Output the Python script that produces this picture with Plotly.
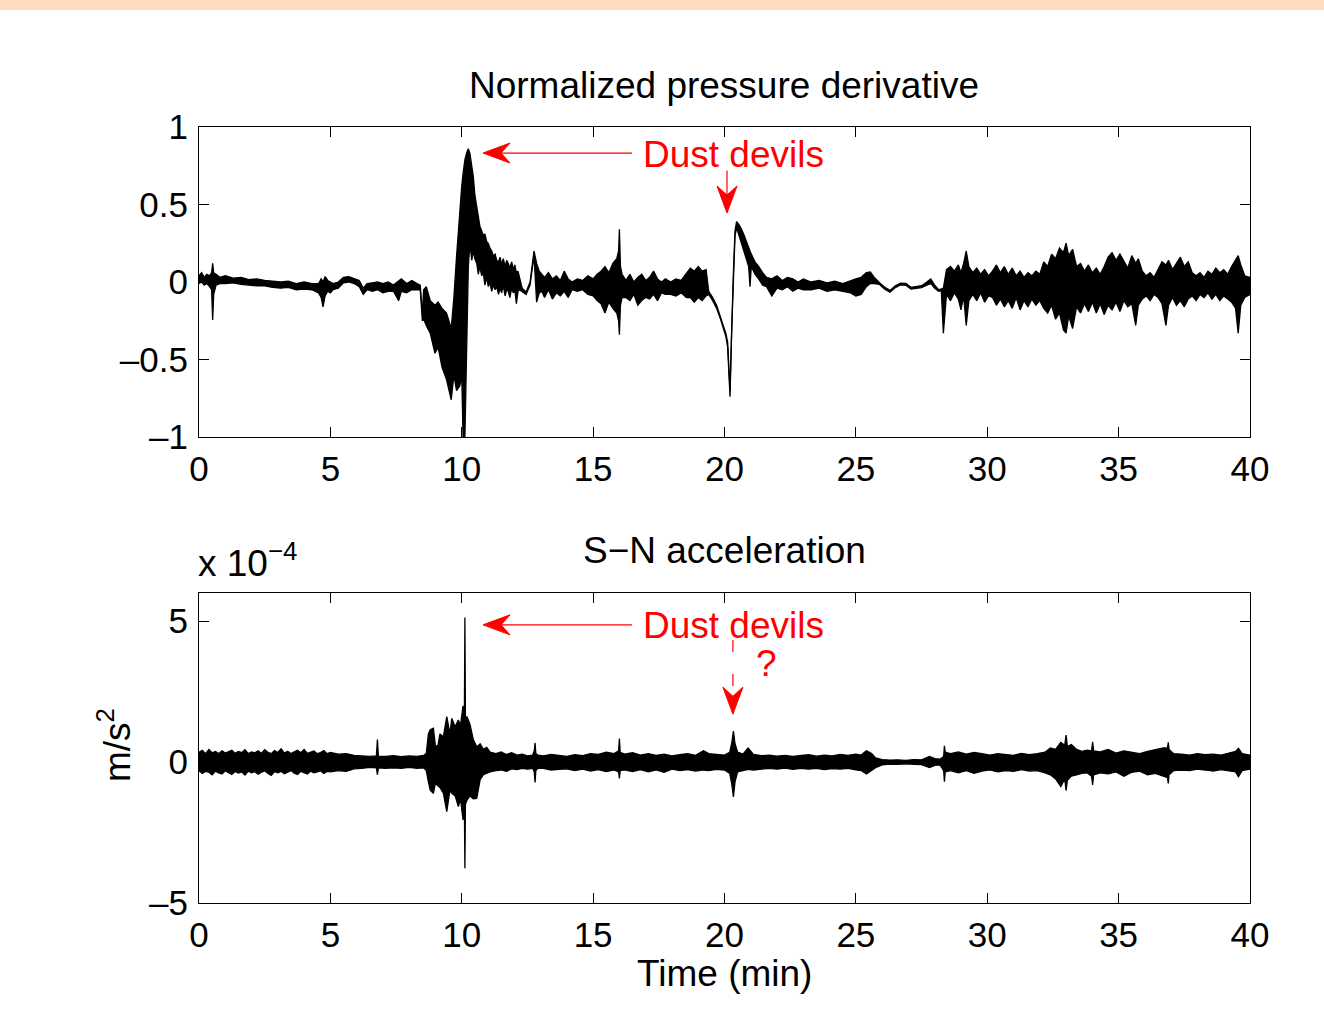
import plotly.graph_objects as go

# ---------------- data ----------------
# Normalized pressure derivative: upper / lower envelope of the dense trace
time_p = [
    0.0, 0.1, 0.2, 0.3, 0.4, 0.48, 0.52, 0.56, 0.65, 0.8,
    1.0, 1.3, 1.6, 1.9, 2.2, 2.5, 2.8, 3.1, 3.4, 3.7, 4.0, 4.3,
    4.55, 4.65, 4.72, 4.8, 4.9, 5.0, 5.1,
    5.3, 5.5, 5.7, 5.9, 6.1, 6.25, 6.4,
    6.6, 6.8, 7.0, 7.2, 7.4, 7.6, 7.7, 7.9, 8.1, 8.3, 8.42,
    8.5, 8.55, 8.65, 8.8, 8.98, 9.1, 9.25, 9.42, 9.6, 9.7, 9.8, 9.93, 10.0,
    10.05, 10.12, 10.2, 10.25,
    10.31, 10.38, 10.44, 10.5, 10.57, 10.63, 10.69, 10.76, 10.82, 10.88,
    10.95, 11.01, 11.07, 11.14, 11.2, 11.27, 11.33, 11.4, 11.46, 11.52,
    11.58, 11.65, 11.71, 11.77, 11.83, 11.9, 11.96, 12.02, 12.08, 12.14, 12.2,
    12.3, 12.45, 12.6, 12.75, 12.85, 12.95,
    13.05, 13.15, 13.3, 13.45, 13.6, 13.75, 13.9, 14.05, 14.2,
    14.4, 14.6, 14.8, 15.0, 15.15,
    15.3, 15.45, 15.6, 15.75, 15.9, 15.97, 16.0, 16.04, 16.1,
    16.25, 16.4, 16.55, 16.7, 16.85, 17.0, 17.15, 17.3, 17.45, 17.6, 17.75,
    17.95, 18.15, 18.35, 18.55, 18.7, 18.85, 19.0, 19.15, 19.3,
    19.4, 19.55, 19.7, 19.85, 19.95, 20.05, 20.12, 20.21, 20.27, 20.33, 20.4, 20.46,
    20.55, 20.65, 20.75, 20.85, 20.92, 20.97, 21.02, 21.16, 21.3, 21.45,
    21.6, 21.8, 22.0, 22.2, 22.4, 22.6, 22.8, 23.0,
    23.3, 23.6, 23.9, 24.2, 24.5, 24.8,
    25.0, 25.2, 25.4, 25.55, 25.7,
    25.9, 26.1, 26.3, 26.5, 26.7, 26.9, 27.1, 27.3, 27.5, 27.7, 27.85, 28.0, 28.15, 28.25, 28.33,
    28.45, 28.6, 28.75, 28.9, 29.0, 29.1, 29.2, 29.3, 29.45, 29.6,
    29.75, 29.9, 30.05, 30.2, 30.35, 30.5, 30.65, 30.8, 30.95, 31.1,
    31.25, 31.4, 31.55, 31.7, 31.85, 32.0, 32.15, 32.3, 32.45, 32.6,
    32.75, 32.9, 33.0, 33.1, 33.25, 33.4, 33.55, 33.7, 33.85, 34.0,
    34.15, 34.3, 34.45, 34.6, 34.75, 34.9, 35.05, 35.2, 35.35, 35.5,
    35.65, 35.75, 35.9, 36.05, 36.2, 36.35, 36.5, 36.65, 36.8, 36.9,
    37.05, 37.2, 37.35, 37.5, 37.65, 37.8, 37.95, 38.1, 38.25, 38.4,
    38.55, 38.7, 38.85, 39.0, 39.15, 39.3, 39.45, 39.55, 39.65, 39.8,
    40.0,
]
p_upper = [
    0.04, 0.06, 0.03, 0.05, 0.04, 0.06, 0.12, 0.06, 0.05, 0.03,
    0.04, 0.025, 0.03, 0.015, 0.02, 0.01, 0.005, 0.0, 0.005, -0.01, 0.0, -0.01,
    -0.01, 0.02, 0.0, 0.035, 0.01, 0.0, -0.01,
    0.0, 0.03, 0.035, 0.02, 0.01, -0.04, -0.01,
    -0.005, 0.0, -0.01, 0.0, -0.02, 0.01, 0.02, -0.01, 0.01, -0.01, -0.02,
    -0.2, -0.05, -0.03, -0.12, -0.15, -0.13, -0.17, -0.2, -0.3, -0.1, 0.16, 0.5, 0.62,
    0.7, 0.79, 0.84, 0.86,
    0.83, 0.74, 0.68, 0.56, 0.49, 0.42, 0.36, 0.33, 0.3, 0.31,
    0.26, 0.25, 0.22, 0.2, 0.17, 0.18, 0.14, 0.13, 0.16, 0.11,
    0.15, 0.1, 0.14, 0.12, 0.09, 0.13, 0.08, 0.11, 0.06, 0.07, 0.02,
    -0.04, -0.065, 0.0, 0.2, 0.12, 0.07,
    0.05, 0.03, 0.06, 0.02, 0.04, 0.01, 0.07, 0.02, 0.0,
    0.02, 0.01, 0.04, 0.02, 0.05,
    0.07, 0.1, 0.06, 0.12, 0.15, 0.2, 0.34, 0.1, 0.05,
    0.01, 0.05, 0.0, 0.03, 0.05, 0.01, 0.03, 0.07, 0.02, 0.0, 0.02,
    0.0, 0.02, 0.01, 0.06, 0.09, 0.07, 0.1, 0.07, 0.08,
    -0.06, -0.1, -0.15, -0.22, -0.28, -0.33, -0.39, -0.7, -0.28, 0.02, 0.33, 0.39,
    0.37, 0.34, 0.3, 0.25, 0.22, 0.2, 0.18, 0.13, 0.1, 0.06,
    0.03, 0.02, 0.04, 0.01, 0.03, 0.02, 0.0, 0.02,
    0.0, 0.01, -0.005, 0.005, -0.01, 0.01,
    0.02, 0.03, 0.06, 0.065, 0.03,
    -0.004, -0.034, -0.054, -0.024, -0.007, -0.009, -0.034, -0.029, -0.024, 0.0, 0.02, -0.02, -0.05, -0.045, -0.04,
    0.08, 0.1, 0.07, 0.11, 0.06, 0.12, 0.2, 0.1, 0.06, 0.09,
    0.05, 0.08, 0.04, 0.07, 0.11, 0.06, 0.1, 0.05, 0.09, 0.04,
    0.07, 0.03, 0.06, 0.04, 0.07, 0.05, 0.13, 0.1, 0.18, 0.15,
    0.22, 0.19, 0.25, 0.17, 0.21, 0.1, 0.12, 0.07, 0.11, 0.06,
    0.09, 0.05, 0.1, 0.16, 0.19, 0.14, 0.18, 0.13, 0.09, 0.17,
    0.12, 0.15, 0.07, 0.04, 0.06, 0.03, 0.08, 0.13, 0.11, 0.14,
    0.08, 0.12, 0.16, 0.1, 0.13, 0.06, 0.04, 0.06, 0.03, 0.07,
    0.05, 0.09, 0.06, 0.08, 0.05, 0.1, 0.14, 0.17, 0.11, 0.04,
    0.03,
]
p_lower = [
    -0.01, 0.0, -0.02, -0.01, -0.03, -0.05, -0.245, -0.08, -0.02, -0.01,
    -0.01, -0.005, -0.015, -0.02, -0.025, -0.025, -0.035, -0.04, -0.035, -0.05, -0.045, -0.05,
    -0.07, -0.1, -0.16, -0.09, -0.06, -0.07, -0.05,
    -0.04, -0.005, 0.0, -0.01, -0.03, -0.08, -0.05,
    -0.06, -0.05, -0.07, -0.06, -0.06, -0.12, -0.06, -0.07, -0.05, -0.05, -0.05,
    -0.25, -0.24, -0.28, -0.33, -0.46, -0.42, -0.55, -0.63, -0.76, -0.6, -0.7, -0.67, -0.6,
    -1.0, -1.0, -0.4, 0.1,
    0.25, 0.14, 0.2, 0.15, 0.12, 0.05, 0.1, 0.04, 0.06, -0.02,
    0.03, -0.03, 0.0, -0.06, -0.02, -0.05, -0.03, -0.08, -0.04, -0.07,
    -0.02, -0.09, -0.05, -0.06, -0.1, -0.04, -0.07, -0.05, -0.14, -0.06, -0.05,
    -0.06, -0.08, -0.02, 0.17, -0.13, -0.07,
    -0.06, -0.1, -0.05, -0.11, -0.07, -0.09, -0.06, -0.1, -0.05,
    -0.06, -0.05, -0.08, -0.09, -0.12,
    -0.14, -0.2, -0.13, -0.17, -0.2, -0.25, -0.34, -0.15, -0.1,
    -0.1, -0.12, -0.08, -0.15, -0.12, -0.1, -0.11, -0.08, -0.12, -0.07, -0.08,
    -0.08, -0.09, -0.07, -0.1, -0.1, -0.13, -0.1, -0.12, -0.09,
    -0.08, -0.12, -0.17, -0.24, -0.3, -0.35, -0.42, -0.74, -0.33, -0.02, 0.3, 0.35,
    0.3, 0.24, 0.19, 0.14, 0.1, -0.03, 0.1, 0.05, 0.02, -0.02,
    -0.03, -0.09, -0.04, -0.05, -0.03, -0.06, -0.04, -0.05,
    -0.05, -0.04, -0.06, -0.05, -0.06, -0.07,
    -0.09, -0.08, -0.03, -0.01, -0.01,
    -0.016, -0.046, -0.066, -0.036, -0.019, -0.021, -0.046, -0.041, -0.036, -0.02, -0.01, -0.04, -0.06, -0.055, -0.33,
    -0.08, -0.12, -0.07, -0.11, -0.18, -0.09, -0.28, -0.12, -0.08, -0.12,
    -0.07, -0.13, -0.09, -0.1, -0.15, -0.11, -0.16, -0.12, -0.17, -0.1,
    -0.18, -0.12, -0.16, -0.11, -0.15, -0.12, -0.17, -0.2, -0.15, -0.24,
    -0.2, -0.31, -0.33, -0.22, -0.3, -0.16, -0.2, -0.14, -0.19, -0.13,
    -0.2, -0.14, -0.21, -0.15, -0.18, -0.13, -0.19, -0.12, -0.16, -0.14,
    -0.28, -0.15, -0.11, -0.09, -0.12, -0.08, -0.1, -0.14, -0.28, -0.15,
    -0.1, -0.15, -0.12, -0.16, -0.11, -0.09, -0.12, -0.08, -0.1, -0.07,
    -0.11, -0.08, -0.12, -0.09, -0.11, -0.13, -0.17, -0.33, -0.15, -0.1,
    -0.08,
]

# S-N acceleration (units of 1e-4 m/s^2): upper / lower envelope
time_a = [
    0.0, 0.125, 0.25, 0.375, 0.5, 0.625, 0.75, 0.875, 1.0, 1.125,
    1.25, 1.375, 1.5, 1.625, 1.75, 1.875, 2.0, 2.125, 2.25, 2.375,
    2.5, 2.625, 2.75, 2.875, 3.0, 3.125, 3.25, 3.375, 3.5, 3.625,
    3.75, 3.875, 4.0, 4.125, 4.25, 4.375, 4.5, 4.625, 4.75, 4.875, 5.0,
    5.3, 5.6, 5.9, 6.2, 6.5, 6.75, 6.79, 6.83, 7.1, 7.4, 7.7, 8.0, 8.3, 8.55,
    8.65, 8.73, 8.8, 8.92, 9.0, 9.1, 9.17, 9.3, 9.43, 9.55, 9.62, 9.75, 9.87, 9.95, 10.05,
    10.1, 10.12, 10.14, 10.2, 10.31, 10.44, 10.57, 10.7, 10.82, 10.95, 11.08,
    11.3, 11.5, 11.7, 11.9, 12.1, 12.3, 12.5, 12.7, 12.76, 12.79, 12.82, 12.9,
    13.1, 13.4, 13.7, 14.0, 14.3, 14.6, 14.9, 15.2, 15.5, 15.8,
    15.97, 16.0, 16.03, 16.2, 16.5, 16.8, 17.1, 17.4, 17.7, 18.0,
    18.3, 18.6, 18.9, 19.2, 19.4, 19.7, 20.0, 20.2, 20.28, 20.34,
    20.4, 20.5, 20.7, 20.9, 21.1, 21.4, 21.7, 22.0, 22.3, 22.6,
    22.9, 23.2, 23.5, 23.8, 24.1, 24.4, 24.7, 25.0, 25.2, 25.4,
    25.6,
    25.75, 26.0, 26.3, 26.6, 26.9, 27.2, 27.5, 27.8, 28.0, 28.2,
    28.34, 28.37, 28.4, 28.6, 28.9, 29.2, 29.5, 29.8, 30.1, 30.4,
    30.7, 31.0, 31.3, 31.6, 31.9, 32.2, 32.4, 32.6, 32.8, 32.95,
    33.0, 33.05, 33.2, 33.4, 33.6, 33.8, 33.97, 34.01, 34.05, 34.3,
    34.6, 34.9, 35.2, 35.5, 35.8, 36.1, 36.4, 36.7, 36.86, 36.89,
    36.92, 37.1, 37.4, 37.7, 38.0, 38.3, 38.6, 38.9, 39.2, 39.45,
    39.56, 39.7, 40.0,
]
a_upper = [
    0.35, 0.42, 0.3, 0.45, 0.33, 0.38, 0.3, 0.4, 0.32, 0.36,
    0.42, 0.31, 0.38, 0.34, 0.44, 0.3, 0.36, 0.33, 0.4, 0.31,
    0.44, 0.35, 0.3, 0.41, 0.34, 0.47, 0.32, 0.38, 0.3, 0.36,
    0.42, 0.33, 0.45, 0.31, 0.36, 0.39, 0.3, 0.34, 0.41, 0.3, 0.34,
    0.28, 0.3, 0.24, 0.22, 0.2, 0.22, 0.8, 0.2, 0.2, 0.23, 0.19, 0.22, 0.2, 0.24,
    0.3, 1.0, 1.15, 1.2, 0.55, 0.6, 1.0, 0.9, 1.61, 1.0, 1.55, 1.25, 1.49, 1.3, 2.0,
    1.6, 5.13, 1.6, 1.6, 1.35, 0.8, 0.54, 0.65, 0.45, 0.52, 0.35,
    0.3, 0.36, 0.27, 0.33, 0.25, 0.28, 0.22, 0.25, 0.4, 0.68, 0.3, 0.25,
    0.22, 0.27, 0.24, 0.2, 0.26, 0.23, 0.3, 0.27, 0.35, 0.3,
    0.4, 0.84, 0.35, 0.28, 0.33, 0.25, 0.3, 0.24, 0.28, 0.22,
    0.26, 0.3, 0.24, 0.4, 0.3, 0.27, 0.25, 0.35, 0.7, 1.1,
    0.65, 0.35, 0.28, 0.5, 0.27, 0.23, 0.25, 0.21, 0.24, 0.2,
    0.23, 0.26, 0.21, 0.25, 0.22, 0.27, 0.24, 0.28, 0.25, 0.4,
    0.3,
    0.15, 0.09, 0.07, 0.08, 0.06, 0.09, 0.08, 0.2, 0.12, 0.1,
    0.2, 0.58, 0.35, 0.3, 0.36, 0.28, 0.34, 0.3, 0.25, 0.3,
    0.27, 0.24, 0.31, 0.26, 0.3, 0.35, 0.5, 0.45, 0.7, 0.6,
    0.96, 0.55, 0.62, 0.45, 0.38, 0.42, 0.4, 0.72, 0.4, 0.36,
    0.45, 0.32, 0.4, 0.35, 0.3, 0.38, 0.45, 0.5, 0.5, 0.7,
    0.45, 0.3, 0.28, 0.25, 0.3, 0.26, 0.28, 0.25, 0.32, 0.38,
    0.49, 0.3, 0.25,
]
a_lower = [
    -0.3, -0.4, -0.33, -0.36, -0.45, -0.32, -0.38, -0.42, -0.31, -0.37,
    -0.44, -0.33, -0.39, -0.35, -0.46, -0.32, -0.38, -0.34, -0.43, -0.36,
    -0.31, -0.4, -0.47, -0.34, -0.38, -0.33, -0.41, -0.36, -0.3, -0.39,
    -0.44, -0.33, -0.37, -0.42, -0.32, -0.38, -0.35, -0.31, -0.4, -0.33, -0.35,
    -0.3, -0.33, -0.24, -0.22, -0.19, -0.2, -0.45, -0.2, -0.22, -0.2, -0.22, -0.19, -0.22, -0.2,
    -0.3, -0.7, -1.0, -1.11, -0.75, -0.85, -0.9, -1.1, -1.76, -1.0, -1.11, -1.2, -1.58, -1.3, -2.05,
    -1.6, -3.77, -1.5, -1.35, -1.2, -1.3, -1.29, -0.62, -0.45, -0.4, -0.35,
    -0.3, -0.28, -0.33, -0.24, -0.27, -0.22, -0.25, -0.22, -0.35, -0.72, -0.3, -0.22,
    -0.22, -0.28, -0.26, -0.24, -0.3, -0.25, -0.32, -0.27, -0.34, -0.28,
    -0.35, -0.58, -0.3, -0.28, -0.34, -0.27, -0.35, -0.28, -0.36, -0.25,
    -0.3, -0.27, -0.32, -0.28, -0.3, -0.26, -0.28, -0.4, -0.8, -1.24,
    -0.7, -0.35, -0.3, -0.26, -0.28, -0.24, -0.22, -0.25, -0.21, -0.26,
    -0.22, -0.25, -0.22, -0.27, -0.23, -0.25, -0.22, -0.28, -0.3, -0.42,
    -0.3,
    -0.2, -0.1, -0.07, -0.08, -0.06, -0.08, -0.09, -0.19, -0.12, -0.1,
    -0.3, -0.7, -0.35, -0.3, -0.38, -0.3, -0.4, -0.32, -0.28, -0.35,
    -0.3, -0.33, -0.27, -0.32, -0.3, -0.38, -0.45, -0.6, -0.87, -0.6,
    -1.01, -0.65, -0.5, -0.45, -0.4, -0.38, -0.5, -0.81, -0.45, -0.38,
    -0.42, -0.35, -0.5, -0.36, -0.32, -0.45, -0.4, -0.5, -0.55, -0.76,
    -0.45, -0.3, -0.28, -0.3, -0.25, -0.28, -0.32, -0.27, -0.3, -0.35,
    -0.52, -0.3, -0.25,
]

x_ticks = [0, 5, 10, 15, 20, 25, 30, 35, 40]
p_ticks = [-1, -0.5, 0, 0.5, 1]
p_ticktext = ["\u20131", "\u20130.5", "0", "0.5", "1"]
a_ticks = [-5, 0, 5]
a_ticktext = ["\u20135", "0", "5"]

# ---------------- figure ----------------
W, H = 1324, 1010
FONT = "Liberation Sans, Arial, Helvetica, sans-serif"
RED = "#ff0000"
TXT = 37

fig = go.Figure()

def band(t, lo, hi, xa, ya):
    fig.add_trace(go.Scatter(x=t, y=lo, mode="lines", xaxis=xa, yaxis=ya,
                             line=dict(color="black", width=1.3), hoverinfo="skip"))
    fig.add_trace(go.Scatter(x=t, y=hi, mode="lines", xaxis=xa, yaxis=ya, fill="tonexty",
                             fillcolor="black", line=dict(color="black", width=1.3),
                             hoverinfo="skip"))

band(time_p, p_lower, p_upper, "x", "y")
band(time_a, a_lower, a_upper, "x2", "y2")

xdom = [199 / W, 1250 / W]
axis_common = dict(showline=True, linecolor="black", linewidth=1.2, mirror="ticks",
                   ticks="inside", ticklen=10, tickwidth=1, tickcolor="black",
                   showgrid=False, zeroline=False, automargin=False,
                   tickfont=dict(family=FONT, size=35, color="black"))

fig.update_layout(
    width=W, height=H,
    margin=dict(l=0, r=0, t=0, b=0, pad=0, autoexpand=False),
    paper_bgcolor="white", plot_bgcolor="white",
    showlegend=False,
    font=dict(family=FONT, color="black"),
    xaxis=dict(domain=xdom, anchor="y", range=[0, 40], tickvals=x_ticks,
               ticklabelstandoff=1, **axis_common),
    yaxis=dict(domain=[(H - 437) / H, (H - 127) / H], anchor="x", range=[-1, 1],
               tickvals=p_ticks, ticktext=p_ticktext, ticklabelstandoff=3, **axis_common),
    xaxis2=dict(domain=xdom, anchor="y2", range=[0, 40], tickvals=x_ticks,
                ticklabelstandoff=1, **axis_common),
    yaxis2=dict(domain=[(H - 903) / H, (H - 593) / H], anchor="x2", range=[-5, 6],
                tickvals=a_ticks, ticktext=a_ticktext, ticklabelstandoff=3, **axis_common),
)

def paper_text(text, x, y, size=TXT, angle=0, xanchor="center", color="black"):
    fig.add_annotation(text=text, x=x / W, y=1 - y / H, xref="paper", yref="paper",
                       showarrow=False, xanchor=xanchor, yanchor="middle", textangle=angle,
                       font=dict(family=FONT, size=size, color=color))

paper_text("Normalized pressure derivative", 724, 86)
paper_text("S\u2212N acceleration", 724, 550)
paper_text("x 10<sup>\u22124</sup>", 196, 560, xanchor="left")
paper_text("Time (min)", 724, 973)
paper_text("m/s<sup>2</sup>", 114, 745, angle=-90)

# red annotations
fig.add_annotation(text="Dust devils", x=20.36, y=0.82, xref="x", yref="y", showarrow=False,
                   font=dict(family=FONT, size=TXT, color=RED))
fig.add_annotation(text="Dust devils", x=20.36, y=4.83, xref="x2", yref="y2", showarrow=False,
                   font=dict(family=FONT, size=TXT, color=RED))
fig.add_annotation(text="?", x=21.58, y=3.5, xref="x2", yref="y2", showarrow=False,
                   font=dict(family=FONT, size=TXT, color=RED))

head_left = "M0,0 L27,10 L18,0 L27,-10 Z"
head_down = "M0,0 L-10,27 L0,18 L10,27 Z"

shapes = [
    dict(type="rect", xref="paper", yref="paper", x0=0, x1=1, y0=1 - 10 / H, y1=1,
         fillcolor="#fddcc0", line=dict(width=0), layer="below"),
    dict(type="line", xref="x", yref="y", x0=16.48, x1=11.3, y0=0.832, y1=0.832,
         line=dict(color=RED, width=1.2)),
    dict(type="path", xref="x", yref="y", xsizemode="pixel", ysizemode="pixel",
         xanchor=10.81, yanchor=0.832, path=head_left, fillcolor=RED, line=dict(color=RED, width=1)),
    dict(type="line", xref="x", yref="y", x0=20.095, x1=20.095, y0=0.72, y1=0.52,
         line=dict(color=RED, width=1.2)),
    dict(type="path", xref="x", yref="y", xsizemode="pixel", ysizemode="pixel",
         xanchor=20.095, yanchor=0.445, path=head_down, fillcolor=RED, line=dict(color=RED, width=1)),
    dict(type="line", xref="x2", yref="y2", x0=16.48, x1=11.3, y0=4.87, y1=4.87,
         line=dict(color=RED, width=1.2)),
    dict(type="path", xref="x2", yref="y2", xsizemode="pixel", ysizemode="pixel",
         xanchor=10.81, yanchor=4.87, path=head_left, fillcolor=RED, line=dict(color=RED, width=1)),
    dict(type="line", xref="x2", yref="y2", x0=20.32, x1=20.32, y0=4.33, y1=2.63,
         line=dict(color=RED, width=1.2, dash="12px,22px")),
    dict(type="path", xref="x2", yref="y2", xsizemode="pixel", ysizemode="pixel",
         xanchor=20.32, yanchor=1.70, path=head_down, fillcolor=RED, line=dict(color=RED, width=1)),
]
fig.update_layout(shapes=shapes)

# remove the default 8px page margin so the 1324x1010 figure fills the window exactly
fig.write_html("out.html",
               config={"displayModeBar": False},
               post_script="document.body.style.margin='0';document.body.style.overflow='hidden';")
